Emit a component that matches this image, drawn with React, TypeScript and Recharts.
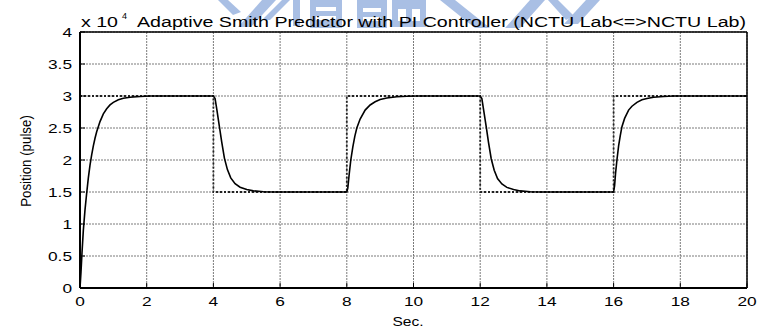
import React from 'react';
import { LineChart, Line, XAxis, YAxis, CartesianGrid } from 'recharts';

const xTicks = [0, 2, 4, 6, 8, 10, 12, 14, 16, 18, 20];
const xTickLabels = ['0', '2', '4', '6', '8', '10', '12', '14', '16', '18', '20'];
const yTicks = [0, 0.5, 1, 1.5, 2, 2.5, 3, 3.5, 4];
const yTickLabels = ['0', '0.5', '1', '1.5', '2', '2.5', '3', '3.5', '4'];

const titleText = 'Adaptive Smith Predictor with PI Controller (NCTU Lab<=>NCTU Lab)';
const scaleText = 'x 10';
const scaleExp = '4';
const xLabel = 'Sec.';
const yLabel = 'Position (pulse)';

// reference (set-point) signal, in units of 10^4 pulses
const refTime = [0, 4, 4, 8, 8, 12, 12, 16, 16, 20];
const refValue = [3, 3, 1.5, 1.5, 3, 3, 1.5, 1.5, 3, 3];

// measured position response, in units of 10^4 pulses
const respTime = [
  0, 0.03, 0.06, 0.1, 0.15, 0.2, 0.25, 0.3, 0.35, 0.4, 0.45, 0.5, 0.6, 0.7, 0.8, 0.9, 1.0, 1.15, 1.3, 1.5, 1.8, 2.1, 4.0,
  4.05, 4.1, 4.18, 4.25, 4.33, 4.42, 4.52, 4.65, 4.8, 5.0, 5.2, 5.5, 5.8, 8.0,
  8.03, 8.07, 8.12, 8.18, 8.24, 8.3, 8.4, 8.55, 8.7, 8.85, 9.0, 9.2, 9.5, 9.8, 10.1, 12.0,
  12.05, 12.1, 12.18, 12.25, 12.33, 12.42, 12.52, 12.65, 12.8, 13.0, 13.2, 13.5, 13.8, 16.0,
  16.03, 16.06, 16.1, 16.15, 16.2, 16.25, 16.33, 16.45, 16.55, 16.7, 16.85, 17.0, 17.2, 17.5, 17.8, 20.0,
];
const respValue = [
  0, 0.25, 0.55, 0.9, 1.22, 1.48, 1.72, 1.92, 2.08, 2.22, 2.34, 2.44, 2.6, 2.72, 2.8, 2.86, 2.9, 2.94, 2.965, 2.98, 2.993, 3.0, 3.0,
  2.96, 2.8, 2.52, 2.28, 2.03, 1.85, 1.72, 1.63, 1.575, 1.54, 1.518, 1.505, 1.5, 1.5,
  1.56, 1.77, 2.0, 2.2, 2.37, 2.5, 2.64, 2.78, 2.86, 2.91, 2.945, 2.968, 2.988, 2.997, 3.0, 3.0,
  2.96, 2.79, 2.52, 2.27, 2.02, 1.84, 1.71, 1.625, 1.572, 1.538, 1.517, 1.505, 1.5, 1.5,
  1.6, 1.8, 2.0, 2.22, 2.38, 2.52, 2.65, 2.78, 2.84, 2.9, 2.94, 2.962, 2.98, 2.993, 3.0, 3.0,
];

const refData = refTime.map((t, i) => ({ t, v: refValue[i] }));
const respData = respTime.map((t, i) => ({ t, v: respValue[i] }));

const FONT = '"Liberation Sans", Arial, Helvetica, sans-serif';
const SX = 1.28;
const WM = '#a9bfe4';

const BottomTick = (props: any) => {
  const { x, y, payload } = props;
  const idx = xTicks.indexOf(payload.value);
  return (
    <g>
      <line x1={x} x2={x} y1={y} y2={y - 5} stroke="#000" strokeWidth={1} />
      <text transform={`translate(${x},${y + 18}) scale(${SX},1)`} textAnchor="middle" fontSize={13.5} fontFamily={FONT} fill="#000">
        {xTickLabels[idx]}
      </text>
    </g>
  );
};

const TopTick = (props: any) => {
  const { x, y } = props;
  return <line x1={x} x2={x} y1={y} y2={y + 5} stroke="#000" strokeWidth={1} />;
};

const LeftTick = (props: any) => {
  const { x, y, payload } = props;
  const idx = yTicks.indexOf(payload.value);
  return (
    <g>
      <line x1={x} x2={x + 5} y1={y} y2={y} stroke="#000" strokeWidth={1} />
      <text transform={`translate(${x - 8},${y + 4.8}) scale(${SX},1)`} textAnchor="end" fontSize={13.5} fontFamily={FONT} fill="#000">
        {yTickLabels[idx]}
      </text>
    </g>
  );
};

const RightTick = (props: any) => {
  const { x, y } = props;
  return <line x1={x} x2={x - 5} y1={y} y2={y} stroke="#000" strokeWidth={1} />;
};

export default function App() {
  return (
    <div style={{ position: 'absolute', left: 0, top: 0, width: 766, height: 329, background: '#fff' }}>
      <svg width={766} height={329} style={{ position: 'absolute', left: 0, top: 0 }}>
        {/* faint watermark behind the title */}
        <g fill={WM}>
          <polygon points="218,0 228,0 241,12 233,15" />
          <polygon points="262,0 276,0 251,27 238,27" />
          <polygon points="282,0 290,0 270,20 262,20" />
          <rect x={293} y={0} width={7} height={26} />
          <rect x={310} y={0} width={32} height={28} />
          <rect x={357} y={0} width={30} height={28} />
          <rect x={392} y={0} width={34} height={27} />
          <polygon points="440,0 455,0 490,28 475,28" />
          <polygon points="530,0 545,0 520,28 505,28" />
          <polygon points="548,0 558,0 574,16 566,20" />
          <polygon points="586,0 600,0 578,24 564,24" />
        </g>
        <g fill="#fff">
          <rect x={316} y={7} width={20} height={4} />
          <rect x={316} y={16} width={20} height={4} />
          <rect x={363} y={8} width={18} height={4} />
          <rect x={363} y={17} width={18} height={4} />
          <rect x={398} y={9} width={8} height={12} />
          <rect x={412} y={9} width={8} height={12} />
        </g>
        <text x={81} y={26.5} textLength={37} lengthAdjust="spacingAndGlyphs" fontSize={14} fontFamily={FONT} fill="#000">
          {scaleText}
        </text>
        <text x={122} y={19} fontSize={9} fontFamily={FONT} fill="#000">
          {scaleExp}
        </text>
        <text x={137} y={26.5} textLength={609} lengthAdjust="spacingAndGlyphs" fontSize={14} fontFamily={FONT} fill="#000">
          {titleText}
        </text>
        <text transform={`translate(408,326) scale(1.15,1)`} textAnchor="middle" fontSize={13.5} fontFamily={FONT} fill="#000">
          {xLabel}
        </text>
        <text transform={`translate(31,161) rotate(-90) scale(1,1.15)`} textAnchor="middle" fontSize={13.3} fontFamily={FONT} fill="#000">
          {yLabel}
        </text>
      </svg>
      <div style={{ position: 'absolute', left: 0, top: 0 }}>
        <LineChart width={766} height={329} margin={{ top: 0, right: 0, bottom: 0, left: 0 }}>
          <CartesianGrid stroke="#7a7a7a" strokeDasharray="2 1" strokeWidth={1} />
          <XAxis
            dataKey="t"
            type="number"
            domain={[0, 20]}
            ticks={xTicks}
            interval={0}
            allowDataOverflow
            height={41}
            tickSize={0}
            tickMargin={0}
            tickLine={false}
            axisLine={{ stroke: '#000', strokeWidth: 2 }}
            tick={<BottomTick />}
          />
          <XAxis
            xAxisId="top"
            orientation="top"
            dataKey="t"
            type="number"
            domain={[0, 20]}
            ticks={xTicks}
            interval={0}
            height={32}
            tickSize={0}
            tickMargin={0}
            tickLine={false}
            axisLine={{ stroke: '#000', strokeWidth: 1.5 }}
            tick={<TopTick />}
          />
          <YAxis
            type="number"
            domain={[0, 4]}
            ticks={yTicks}
            interval={0}
            allowDataOverflow
            width={80}
            tickSize={0}
            tickMargin={0}
            tickLine={false}
            axisLine={{ stroke: '#000', strokeWidth: 2 }}
            tick={<LeftTick />}
          />
          <YAxis
            yAxisId="right"
            orientation="right"
            type="number"
            domain={[0, 4]}
            ticks={yTicks}
            interval={0}
            width={19}
            tickSize={0}
            tickMargin={0}
            tickLine={false}
            axisLine={{ stroke: '#000', strokeWidth: 1.5 }}
            tick={<RightTick />}
          />
          <Line
            data={refData}
            dataKey="v"
            type="linear"
            stroke="#222"
            strokeWidth={1.8}
            strokeDasharray="2 2"
            dot={false}
            activeDot={false}
            isAnimationActive={false}
          />
          <Line
            data={respData}
            dataKey="v"
            type="linear"
            stroke="#000"
            strokeWidth={1.6}
            dot={false}
            activeDot={false}
            isAnimationActive={false}
          />
        </LineChart>
      </div>
    </div>
  );
}
